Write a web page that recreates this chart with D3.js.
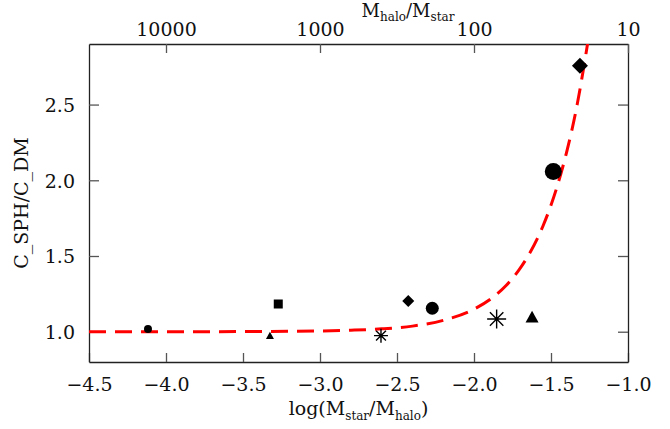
<!DOCTYPE html>
<html>
<head>
<meta charset="utf-8">
<script src="https://cdn.jsdelivr.net/npm/d3@7"></script>
<style>
  body { margin: 0; background: #fff; }
  text { font-family: "DejaVu Serif", "Liberation Serif", serif; fill: #111; }
</style>
</head>
<body>
<div id="chart"></div>
<script>
// measured points: log(Mstar/Mhalo) vs concentration ratio
const logRatio = [-4.117, -3.325, -3.271, -2.604, -2.427, -2.271, -1.853, -1.623, -1.485, -1.312];
const concRatio = [1.018, 0.976, 1.183, 0.974, 1.203, 1.155, 1.084, 1.099, 2.058, 2.757];
const markerType = ['circle', 'triangle', 'square', 'asterisk', 'diamond', 'circle', 'asterisk', 'triangle', 'circle', 'diamond'];

// red dashed fit
const fitX = [-4.5, -4.0, -3.5, -3.0, -2.8, -2.6, -2.4, -2.2, -2.0, -1.875, -1.79, -1.71, -1.65, -1.55, -1.46, -1.40, -1.33, -1.29, -1.255];
const fitY = [1.0, 1.0, 1.001, 1.005, 1.01, 1.019, 1.037, 1.075, 1.149, 1.229, 1.307, 1.405, 1.498, 1.703, 1.96, 2.18, 2.50, 2.73, 2.95];

const xTicks = [-4.5, -4.0, -3.5, -3.0, -2.5, -2.0, -1.5, -1.0];
const yTicks = [1.0, 1.5, 2.0, 2.5];
const topTicks = [10000, 1000, 100, 10];

const width = 670;
const height = 429;
const margin = { top: 44, right: 42, bottom: 67, left: 89 };

// marker sizes (px) by point, small -> large
const markerSize = [8, 8, 9, 14, 12, 13, 19, 13, 17, 16];

const svg = d3.select('#chart')
  .append('svg')
    .attr('width', width)
    .attr('height', height);

const x = d3.scaleLinear()
  .domain([-4.5, -1.0])
  .range([margin.left, width - margin.right]);

const y = d3.scaleLinear()
  .domain([0.8, 2.9])
  .range([height - margin.bottom, margin.top]);

const plotW = width - margin.left - margin.right;
const plotH = height - margin.top - margin.bottom;

svg.append('clipPath')
    .attr('id', 'clip')
  .append('rect')
    .attr('x', margin.left)
    .attr('y', margin.top)
    .attr('width', plotW)
    .attr('height', plotH);

// axes
const fmt = d3.format('.1f');
const minus = s => s.replace('-', '\u2212');

const bottomAxis = svg.append('g')
  .attr('transform', `translate(0,${height - margin.bottom})`)
  .call(d3.axisBottom(x).tickValues(xTicks).tickSize(-9).tickSizeOuter(0).tickFormat(d => minus(fmt(d))));

const leftAxis = svg.append('g')
  .attr('transform', `translate(${margin.left},0)`)
  .call(d3.axisLeft(y).tickValues(yTicks).tickSize(-10).tickSizeOuter(0).tickFormat(fmt));

const rightAxis = svg.append('g')
  .attr('transform', `translate(${width - margin.right},0)`)
  .call(d3.axisRight(y).tickValues(yTicks).tickSize(-10).tickSizeOuter(0).tickFormat(''));

const topAxis = svg.append('g')
  .attr('transform', `translate(0,${margin.top})`)
  .call(d3.axisTop(d3.scaleLinear().domain([4.5, 1.0]).range(x.range()))
    .tickValues(topTicks.map(t => Math.log10(t)))
    .tickSize(-9).tickSizeOuter(0)
    .tickFormat((d, i) => topTicks[i]));

[bottomAxis, leftAxis, rightAxis, topAxis].forEach(g => {
  g.select('.domain').attr('stroke', '#222').attr('stroke-width', 1.3);
  g.selectAll('.tick line').attr('stroke', '#555').attr('stroke-width', 1.3);
  g.selectAll('.tick text')
    .style('font-size', '19px')
    .attr('fill', '#111');
});
bottomAxis.selectAll('.tick text').attr('dy', '1.35em');
leftAxis.selectAll('.tick text').attr('x', -14).attr('dy', '0.36em');
topAxis.selectAll('.tick text').attr('dy', '-0.25em');

// fit curve
svg.append('path')
  .datum(fitX.map((v, i) => [v, fitY[i]]))
    .attr('clip-path', 'url(#clip)')
    .attr('fill', 'none')
    .attr('stroke', '#ff0000')
    .attr('stroke-width', 3)
    .attr('stroke-dasharray', '17,9')
    .attr('d', d3.line().x(d => x(d[0])).y(d => y(d[1])).curve(d3.curveMonotoneX));

// markers
const points = svg.append('g')
  .selectAll('g')
  .data(logRatio.map((v, i) => ({ x: v, y: concRatio[i], type: markerType[i], size: markerSize[i] })))
  .join('g')
    .attr('transform', d => `translate(${x(d.x)},${y(d.y)})`);

points.each(function(d) {
  const g = d3.select(this);
  const s = d.size;
  if (d.type === 'circle') {
    g.append('circle').attr('r', s / 2).attr('fill', '#000');
  } else if (d.type === 'square') {
    g.append('rect').attr('x', -s / 2).attr('y', -s / 2).attr('width', s).attr('height', s).attr('fill', '#000');
  } else if (d.type === 'diamond') {
    g.append('path')
      .attr('d', `M0,${-s / 2}L${s / 2},0L0,${s / 2}L${-s / 2},0Z`)
      .attr('fill', '#000');
  } else if (d.type === 'triangle') {
    const h = s * 0.9;
    g.append('path')
      .attr('d', `M0,${-h / 2}L${s / 2},${h / 2}L${-s / 2},${h / 2}Z`)
      .attr('fill', '#000');
  } else if (d.type === 'asterisk') {
    const r = s / 2;
    const k = r * Math.SQRT1_2;
    g.append('path')
      .attr('d', `M${-r},0L${r},0M0,${-r}L0,${r}M${-k},${-k}L${k},${k}M${-k},${k}L${k},${-k}`)
      .attr('stroke', '#000')
      .attr('stroke-width', 1.4)
      .attr('fill', 'none');
  }
});

// axis titles
svg.append('text')
  .attr('x', (margin.left + width - margin.right) / 2)
  .attr('y', 415)
  .attr('text-anchor', 'middle')
  .style('font-size', '19px')
  .html('log(M<tspan dy="5" style="font-size:12px">star</tspan><tspan dy="-5">/M</tspan><tspan dy="5" style="font-size:12px">halo</tspan><tspan dy="-5">)</tspan>');

svg.append('text')
  .attr('x', 408)
  .attr('y', 17)
  .attr('text-anchor', 'middle')
  .style('font-size', '18px')
  .html('M<tspan dy="4" style="font-size:12px">halo</tspan><tspan dy="-4">/M</tspan><tspan dy="4" style="font-size:12px">star</tspan>');

svg.append('text')
  .attr('transform', `translate(28,${(margin.top + height - margin.bottom) / 2}) rotate(-90)`)
  .attr('text-anchor', 'middle')
  .style('font-size', '19px')
  .text('C_SPH/C_DM');
</script>
</body>
</html>
